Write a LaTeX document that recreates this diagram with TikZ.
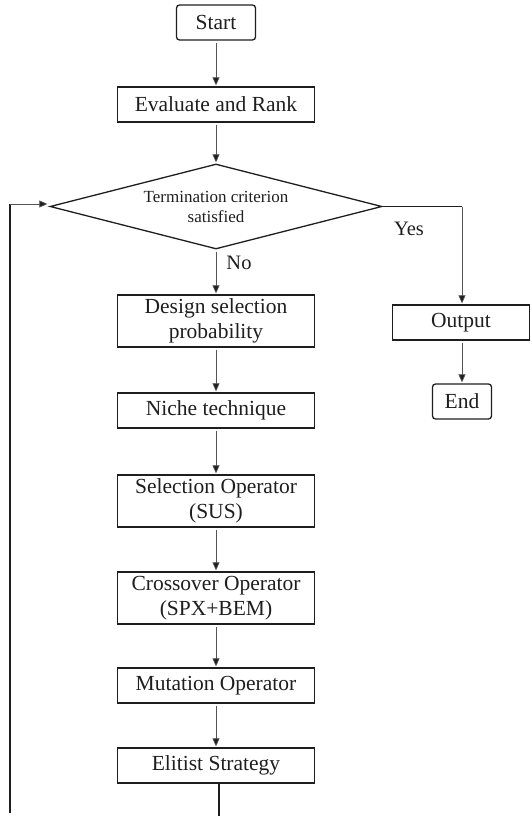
\documentclass[tikz,border=0pt]{standalone}
\usepackage{fontspec}
\setmainfont{Liberation Serif}
\usetikzlibrary{shapes.geometric,arrows.meta}

\definecolor{ink}{HTML}{1E1E1E}
\definecolor{wire}{HTML}{555555}

\tikzset{
  procbox/.style={draw=ink, line width=1.3pt, rectangle, inner sep=0pt,
    minimum width=197pt, minimum height=35pt, align=center,
    font=\fontsize{21.5}{24.5}\selectfont, text=ink},
  tallbox/.style={procbox, minimum height=52pt},
  termbox/.style={draw=ink, line width=1.3pt, rectangle, rounded corners=3pt,
    inner sep=0pt, minimum height=35pt, font=\fontsize{21.5}{24.5}\selectfont, text=ink},
  decision/.style={draw=ink, line width=1.3pt, diamond, inner sep=0pt,
    minimum width=332pt, minimum height=85pt, shape aspect=3.9, align=center,
    font=\fontsize{17}{20}\selectfont, text=ink},
  flow/.style={draw=wire, line width=0.7pt,
    -{Triangle[length=8pt,width=7pt,fill=ink]}, shorten >=1pt, shorten <=2pt},
  loopline/.style={draw=ink, line width=1.4pt},
  branchlabel/.style={font=\fontsize{20.5}{24}\selectfont, text=ink, inner sep=0pt},
}

\begin{document}
\begin{tikzpicture}[x=1pt, y=-1pt]
  \useasboundingbox (0,0) rectangle (531,816);

  % main column
  \node[termbox, minimum width=79pt] (start) at (216,22.5) {Start};
  \node[procbox] (eval) at (216,104.5) {Evaluate and Rank};
  \node[decision] (term) at (216,206.5) {Termination criterion\\satisfied};
  \node[tallbox] (design) at (216,321) {Design selection\\probability};
  \node[procbox] (niche) at (216,410.5) {Niche technique};
  \node[tallbox] (select) at (216,501) {Selection Operator\\(SUS)};
  \node[tallbox] (cross) at (216,598) {Crossover Operator\\(SPX+BEM)};
  \node[procbox] (mutate) at (216,685.5) {Mutation Operator};
  \node[procbox] (elite) at (216,765.5) {Elitist Strategy};

  % output branch
  \node[procbox, minimum width=137pt] (output) at (461,322.5) {Output};
  \node[termbox, minimum width=59pt] (stop) at (462,401.5) {End};

  % straight-down flow
  \draw[flow] (start) -- (eval);
  \draw[flow] (eval) -- (term);
  \draw[flow] (term) -- (design);
  \draw[flow] (design) -- (niche);
  \draw[flow] (niche) -- (select);
  \draw[flow] (select) -- (cross);
  \draw[flow] (cross) -- (mutate);
  \draw[flow] (mutate) -- (elite);

  % Yes branch
  \coordinate (yescorner) at (462,206.5);
  \draw[loopline] (term.east) -- (yescorner);
  \draw[flow, shorten <=0pt] (yescorner) -- (output.north -| yescorner);
  \draw[flow] (output.south -| stop) -- (stop);
  \node[branchlabel] (yes) at (409,229) {Yes};
  \node[branchlabel] (no) at (239,263) {No};

  % loop back to the decision
  \coordinate (loopbottom) at (10,813);
  \coordinate (loopcorner) at (10,204);
  \draw[loopline] (loopbottom) -- (loopcorner);
  \draw[flow, shorten <=0pt, shorten >=2pt] (loopcorner) -- (term.west |- loopcorner);

  % leaving the last step
  \coordinate (elitend) at (219,816);
  \draw[loopline] (elite.south -| elitend) -- (elitend);
\end{tikzpicture}
\end{document}
